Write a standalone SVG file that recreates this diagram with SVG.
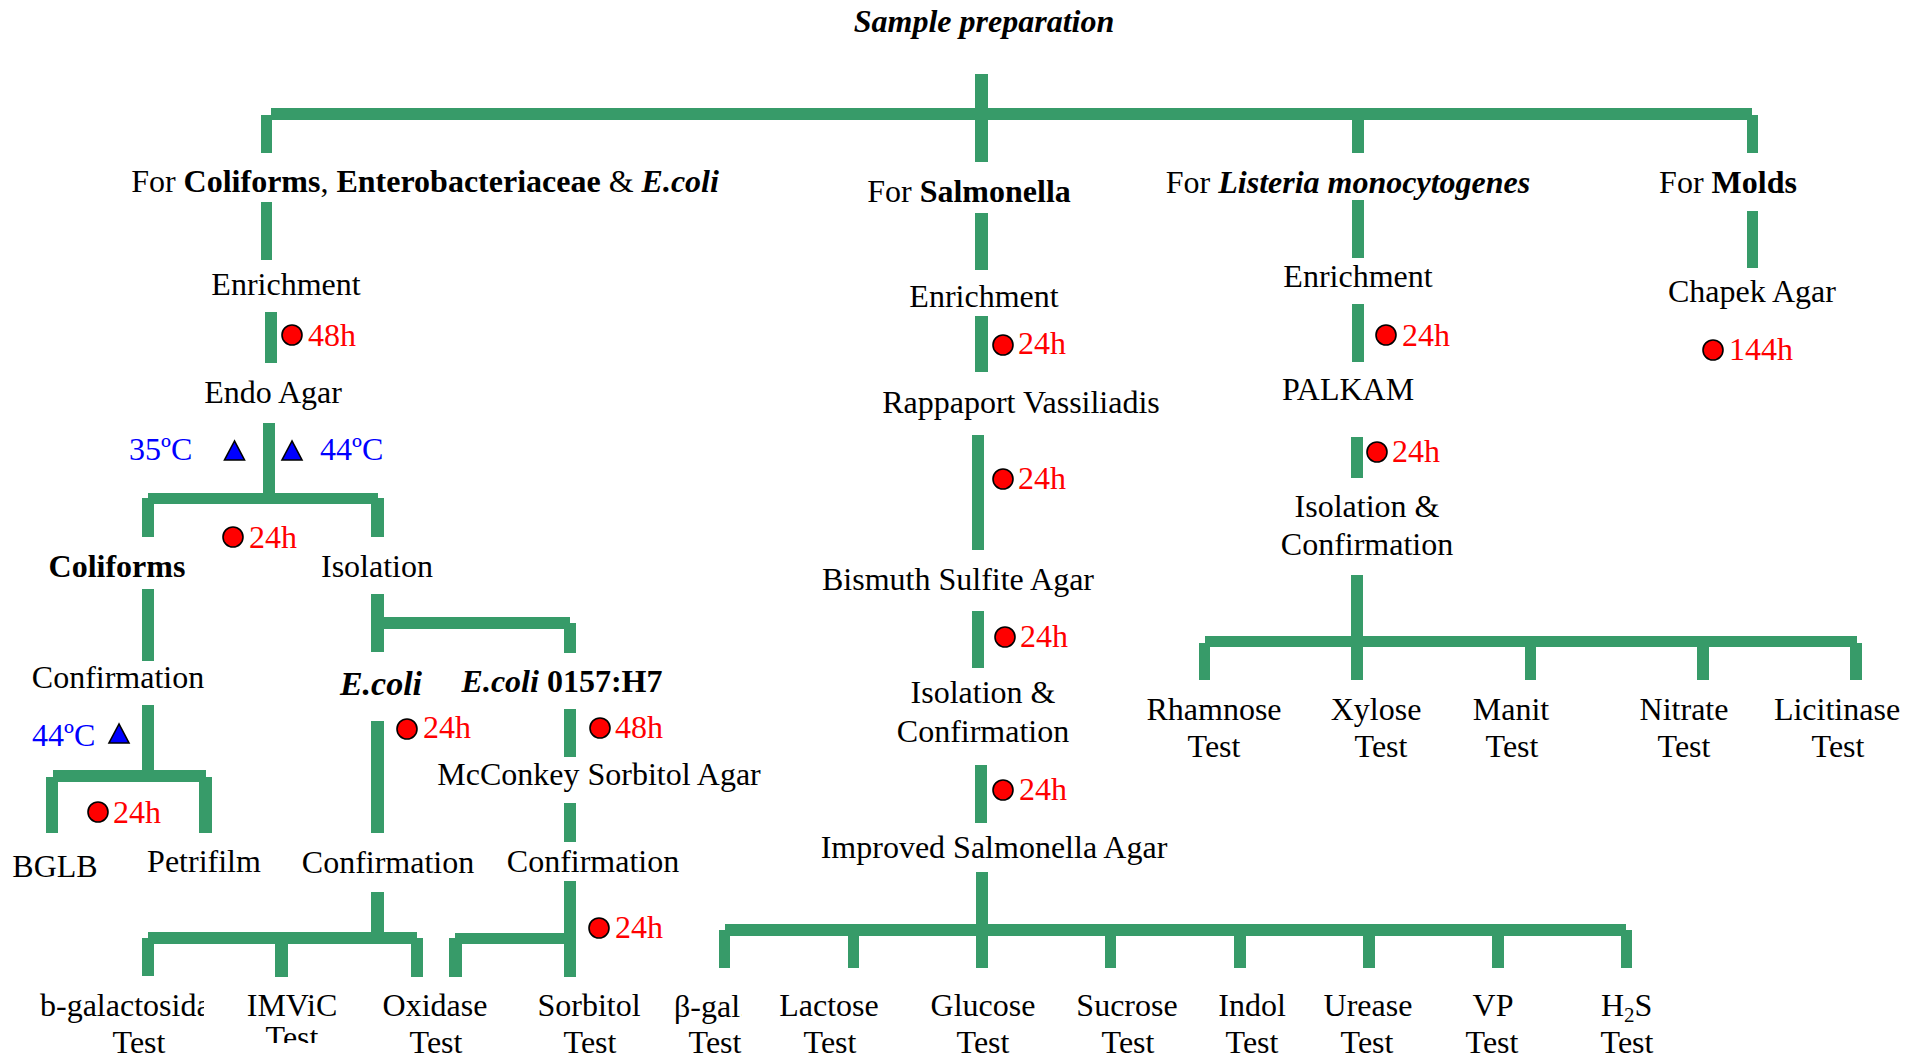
<svg xmlns="http://www.w3.org/2000/svg" width="1923" height="1057" viewBox="0 0 1923 1057">
<style>
text{font-family:"Liberation Serif","Times New Roman",serif;font-size:32px;fill:#000}
.m{text-anchor:middle}
.b{font-weight:bold}
.bi{font-weight:bold;font-style:italic}
.r{fill:#ff0000}
.bl{fill:#0000ff}
.c rect{fill:#379b69}
.dot{fill:#ff0000;stroke:#000;stroke-width:1.6}
.tri{fill:#0000ff;stroke:#000;stroke-width:1.6;stroke-linejoin:miter}
</style>
<defs>
<clipPath id="clipB"><rect x="0" y="980" width="204" height="77"/></clipPath>
<clipPath id="clipG"><rect x="660" y="980" width="82" height="77"/></clipPath>
<clipPath id="clipI"><rect x="230" y="1020" width="120" height="23"/></clipPath>
<clipPath id="clip44"><rect x="0" y="715" width="95" height="31"/></clipPath>
</defs>
<rect width="1923" height="1057" fill="#fff"/>

<g id="connectors" class="c">
<!-- top level -->
<rect x="975" y="74" width="13" height="88"/>
<rect x="271" y="108" width="1481" height="12"/>
<rect x="261" y="115" width="11" height="38"/>
<rect x="1352" y="115" width="12" height="38"/>
<rect x="1747" y="115" width="11" height="38"/>
<!-- coliforms -->
<rect x="261" y="202" width="11" height="58"/>
<rect x="265" y="312" width="12" height="51"/>
<rect x="263" y="423" width="12" height="72"/>
<rect x="148" y="493" width="230" height="11"/>
<rect x="142" y="498" width="12" height="39"/>
<rect x="371" y="498" width="13" height="39"/>
<rect x="142" y="589" width="12" height="72"/>
<rect x="142" y="705" width="12" height="68"/>
<rect x="53" y="770" width="153" height="12"/>
<rect x="46" y="777" width="12" height="56"/>
<rect x="199" y="777" width="13" height="56"/>
<rect x="371" y="594" width="13" height="58"/>
<rect x="384" y="617" width="186" height="12"/>
<rect x="564" y="623" width="12" height="30"/>
<rect x="371" y="721" width="13" height="112"/>
<rect x="564" y="709" width="12" height="48"/>
<rect x="564" y="803" width="12" height="39"/>
<rect x="371" y="892" width="13" height="43"/>
<rect x="148" y="932" width="269" height="12"/>
<rect x="142" y="938" width="12" height="38"/>
<rect x="275" y="944" width="13" height="33"/>
<rect x="411" y="938" width="12" height="39"/>
<rect x="564" y="881" width="12" height="96"/>
<rect x="455" y="933" width="115" height="11"/>
<rect x="449" y="938" width="13" height="39"/>
<!-- salmonella -->
<rect x="975" y="213" width="13" height="57"/>
<rect x="975" y="316" width="13" height="56"/>
<rect x="972" y="435" width="12" height="115"/>
<rect x="972" y="611" width="12" height="57"/>
<rect x="975" y="765" width="12" height="58"/>
<rect x="976" y="872" width="12" height="96"/>
<rect x="725" y="924" width="901" height="12"/>
<rect x="719" y="930" width="11" height="38"/>
<rect x="848" y="930" width="11" height="38"/>
<rect x="1105" y="930" width="11" height="38"/>
<rect x="1234" y="930" width="12" height="38"/>
<rect x="1363" y="930" width="12" height="38"/>
<rect x="1492" y="930" width="12" height="38"/>
<rect x="1621" y="930" width="11" height="38"/>
<!-- listeria -->
<rect x="1352" y="200" width="12" height="58"/>
<rect x="1352" y="304" width="12" height="58"/>
<rect x="1351" y="437" width="12" height="41"/>
<rect x="1351" y="575" width="12" height="105"/>
<rect x="1205" y="636" width="652" height="11"/>
<rect x="1199" y="643" width="11" height="37"/>
<rect x="1525" y="643" width="11" height="37"/>
<rect x="1697" y="643" width="12" height="37"/>
<rect x="1850" y="643" width="12" height="37"/>
<!-- molds -->
<rect x="1747" y="211" width="11" height="57"/>
</g>

<g id="title"><text class="m bi" x="984" y="32">Sample preparation</text></g>

<g id="hdr-coliforms"><text class="m" x="425" y="192">For <tspan class="b">Coliforms</tspan>, <tspan class="b">Enterobacteriaceae</tspan> &amp; <tspan class="bi">E.coli</tspan></text></g>
<g id="hdr-salmonella"><text class="m" x="969" y="202">For <tspan class="b">Salmonella</tspan></text></g>
<g id="hdr-listeria"><text class="m" x="1348" y="193">For <tspan class="bi">Listeria monocytogenes</tspan></text></g>
<g id="hdr-molds"><text class="m" x="1728" y="193">For <tspan class="b">Molds</tspan></text></g>

<!-- coliforms branch -->
<g id="col-enrich"><text class="m" x="286" y="295">Enrichment</text></g>
<g id="col-48h"><circle class="dot" cx="292" cy="335" r="10"/><text class="r" x="308" y="346">48h</text></g>
<g id="col-endo"><text class="m" x="273" y="403">Endo Agar</text></g>
<g id="col-temp">
<text class="bl" x="129" y="460">35ºC</text>
<polygon class="tri" points="234.5,441 224.5,460 244.5,460"/>
<polygon class="tri" points="292,441 282,460 302,460"/>
<text class="bl" x="320" y="460">44ºC</text>
</g>
<g id="col-24h-a"><circle class="dot" cx="233" cy="537" r="10"/><text class="r" x="249" y="548">24h</text></g>
<g id="col-coliforms"><text class="m b" x="117" y="577">Coliforms</text></g>
<g id="col-isolation"><text class="m" x="377" y="577">Isolation</text></g>
<g id="col-confirm"><text class="m" x="118" y="688">Confirmation</text></g>
<g id="col-44"><text class="bl" x="32" y="746" clip-path="url(#clip44)">44ºC</text><polygon class="tri" points="119,724 109,743 129,743"/></g>
<g id="col-24h-b"><circle class="dot" cx="98" cy="812" r="10"/><text class="r" x="113" y="823">24h</text></g>
<g id="col-bglb"><text class="m" x="55" y="877">BGLB</text></g>
<g id="col-petrifilm"><text class="m" x="204" y="872">Petrifilm</text></g>
<g id="ecoli"><text class="m bi" x="381" y="695" style="font-size:34px">E.coli</text></g>
<g id="ecoli-o157"><text class="m" x="562" y="692"><tspan class="bi">E.coli</tspan><tspan class="b"> 0157:H7</tspan></text></g>
<g id="ecoli-24h"><circle class="dot" cx="407" cy="729" r="10"/><text class="r" x="423" y="738">24h</text></g>
<g id="o157-48h"><circle class="dot" cx="600" cy="728" r="10"/><text class="r" x="615" y="738">48h</text></g>
<g id="mcconkey"><text class="m" x="599" y="785">McConkey Sorbitol Agar</text></g>
<g id="ecoli-confirm"><text class="m" x="388" y="873">Confirmation</text></g>
<g id="o157-confirm"><text class="m" x="593" y="872">Confirmation</text></g>
<g id="o157-24h"><circle class="dot" cx="599" cy="928" r="10"/><text class="r" x="615" y="938">24h</text></g>
<g id="t-bgal"><text x="40" y="1016" clip-path="url(#clipB)">b-galactosida</text><text class="m" x="139" y="1053">Test</text></g>
<g id="t-imvic"><text class="m" x="292" y="1016">IMViC</text><text class="m" x="292" y="1048" clip-path="url(#clipI)">Test</text></g>
<g id="t-oxidase"><text class="m" x="435" y="1016">Oxidase</text><text class="m" x="436" y="1053">Test</text></g>
<g id="t-sorbitol"><text class="m" x="589" y="1016">Sorbitol</text><text class="m" x="590" y="1053">Test</text></g>

<!-- salmonella branch -->
<g id="sal-enrich"><text class="m" x="984" y="307">Enrichment</text></g>
<g id="sal-24h-a"><circle class="dot" cx="1003" cy="345" r="10"/><text class="r" x="1018" y="354">24h</text></g>
<g id="sal-rv"><text class="m" x="1021" y="413">Rappaport Vassiliadis</text></g>
<g id="sal-24h-b"><circle class="dot" cx="1003" cy="479" r="10"/><text class="r" x="1018" y="489">24h</text></g>
<g id="sal-bsa"><text class="m" x="958" y="590">Bismuth Sulfite Agar</text></g>
<g id="sal-24h-c"><circle class="dot" cx="1005" cy="637" r="10"/><text class="r" x="1020" y="647">24h</text></g>
<g id="sal-iso"><text class="m" x="983" y="703">Isolation &amp;</text><text class="m" x="983" y="742">Confirmation</text></g>
<g id="sal-24h-d"><circle class="dot" cx="1003" cy="790" r="10"/><text class="r" x="1019" y="800">24h</text></g>
<g id="sal-isa"><text class="m" x="994" y="858">Improved Salmonella Agar</text></g>
<g id="t-betagal"><text x="674" y="1017" clip-path="url(#clipG)">β-gal.</text><text class="m" x="715" y="1053">Test</text></g>
<g id="t-lactose"><text class="m" x="829" y="1016">Lactose</text><text class="m" x="830" y="1053">Test</text></g>
<g id="t-glucose"><text class="m" x="983" y="1016">Glucose</text><text class="m" x="983" y="1053">Test</text></g>
<g id="t-sucrose"><text class="m" x="1127" y="1016">Sucrose</text><text class="m" x="1128" y="1053">Test</text></g>
<g id="t-indol"><text class="m" x="1252" y="1016">Indol</text><text class="m" x="1252" y="1053">Test</text></g>
<g id="t-urease"><text class="m" x="1368" y="1016">Urease</text><text class="m" x="1367" y="1053">Test</text></g>
<g id="t-vp"><text class="m" x="1493" y="1016">VP</text><text class="m" x="1492" y="1053">Test</text></g>
<g id="t-h2s"><text x="1601" y="1016">H<tspan dy="6" style="font-size:21px">2</tspan><tspan dy="-6">S</tspan></text><text class="m" x="1627" y="1053">Test</text></g>

<!-- listeria branch -->
<g id="lis-enrich"><text class="m" x="1358" y="287">Enrichment</text></g>
<g id="lis-24h-a"><circle class="dot" cx="1386" cy="335" r="10"/><text class="r" x="1402" y="346">24h</text></g>
<g id="lis-palkam"><text class="m" x="1348" y="400">PALKAM</text></g>
<g id="lis-24h-b"><circle class="dot" cx="1377" cy="452" r="10"/><text class="r" x="1392" y="462">24h</text></g>
<g id="lis-iso"><text class="m" x="1367" y="517">Isolation &amp;</text><text class="m" x="1367" y="555">Confirmation</text></g>
<g id="t-rhamnose"><text class="m" x="1214" y="720">Rhamnose</text><text class="m" x="1214" y="757">Test</text></g>
<g id="t-xylose"><text class="m" x="1376" y="720">Xylose</text><text class="m" x="1381" y="757">Test</text></g>
<g id="t-manit"><text class="m" x="1511" y="720">Manit</text><text class="m" x="1512" y="757">Test</text></g>
<g id="t-nitrate"><text class="m" x="1684" y="720">Nitrate</text><text class="m" x="1684" y="757">Test</text></g>
<g id="t-licitinase"><text class="m" x="1837" y="720">Licitinase</text><text class="m" x="1838" y="757">Test</text></g>

<!-- molds branch -->
<g id="mold-chapek"><text class="m" x="1752" y="302">Chapek Agar</text></g>
<g id="mold-144h"><circle class="dot" cx="1713" cy="350" r="10"/><text class="r" x="1729" y="360">144h</text></g>
</svg>
